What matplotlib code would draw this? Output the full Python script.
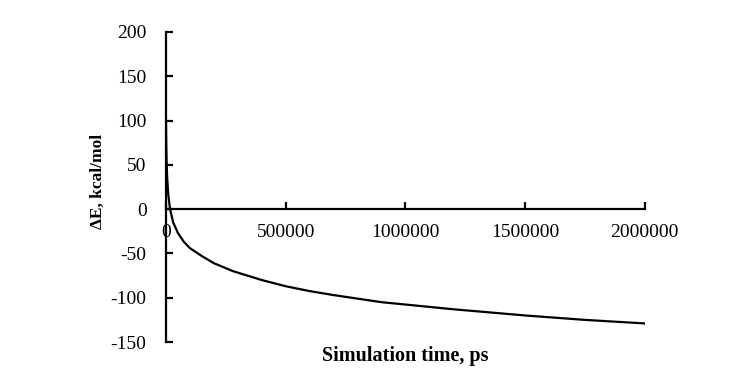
import numpy as np
import matplotlib
matplotlib.use('Agg')
import matplotlib.pyplot as plt

# simulation time (ps) and energy change (kcal/mol)
time_ps = [0, 1000, 2500, 5000, 10000, 17000, 30000, 50000, 75000, 100000, 150000,
           200000, 280000, 400000, 500000, 600000, 700000, 900000, 1200000,
           1500000, 1750000, 2000000]
delta_e = [100, 75, 55, 35, 15, 0, -15, -27, -37, -44, -53,
           -61, -70, -80, -87, -92.5, -97, -105, -113,
           -120, -125, -129]

x_ticks = [0, 500000, 1000000, 1500000, 2000000]
y_ticks = [-150, -100, -50, 0, 50, 100, 150, 200]

plt.rcParams['font.family'] = ['Liberation Serif', 'DejaVu Serif']
plt.rcParams['axes.unicode_minus'] = False

fig = plt.figure(figsize=(7.41, 3.90), dpi=100)
ax = fig.add_axes([0.224, 0.123, 0.646, 0.795])

ax.plot(time_ps, delta_e, color='black', linewidth=1.6)

ax.set_xlim(0, 2000000)
ax.set_ylim(-150, 200)
ax.set_xticks(x_ticks)
ax.set_yticks(y_ticks)
ax.set_xticklabels([str(v) for v in x_ticks])
ax.set_yticklabels([str(v) for v in y_ticks])

# Excel-like axes: x axis crosses at y = 0
ax.spines['bottom'].set_position(('data', 0))
ax.spines['top'].set_visible(False)
ax.spines['right'].set_visible(False)
for s in ('left', 'bottom'):
    ax.spines[s].set_linewidth(1.6)

ax.tick_params(axis='both', direction='in', length=5, width=1.6, labelsize=14)
ax.tick_params(axis='x', pad=11)
ax.tick_params(axis='y', pad=14)

fig.text(0.132, 0.535, 'ΔE, kcal/mol', fontsize=12.5, fontweight='bold',
         rotation=90, ha='center', va='center')
fig.text(0.547, 0.087, 'Simulation time, ps', fontsize=14.5, fontweight='bold',
         ha='center', va='center')

fig.savefig('out.png', dpi=100)
